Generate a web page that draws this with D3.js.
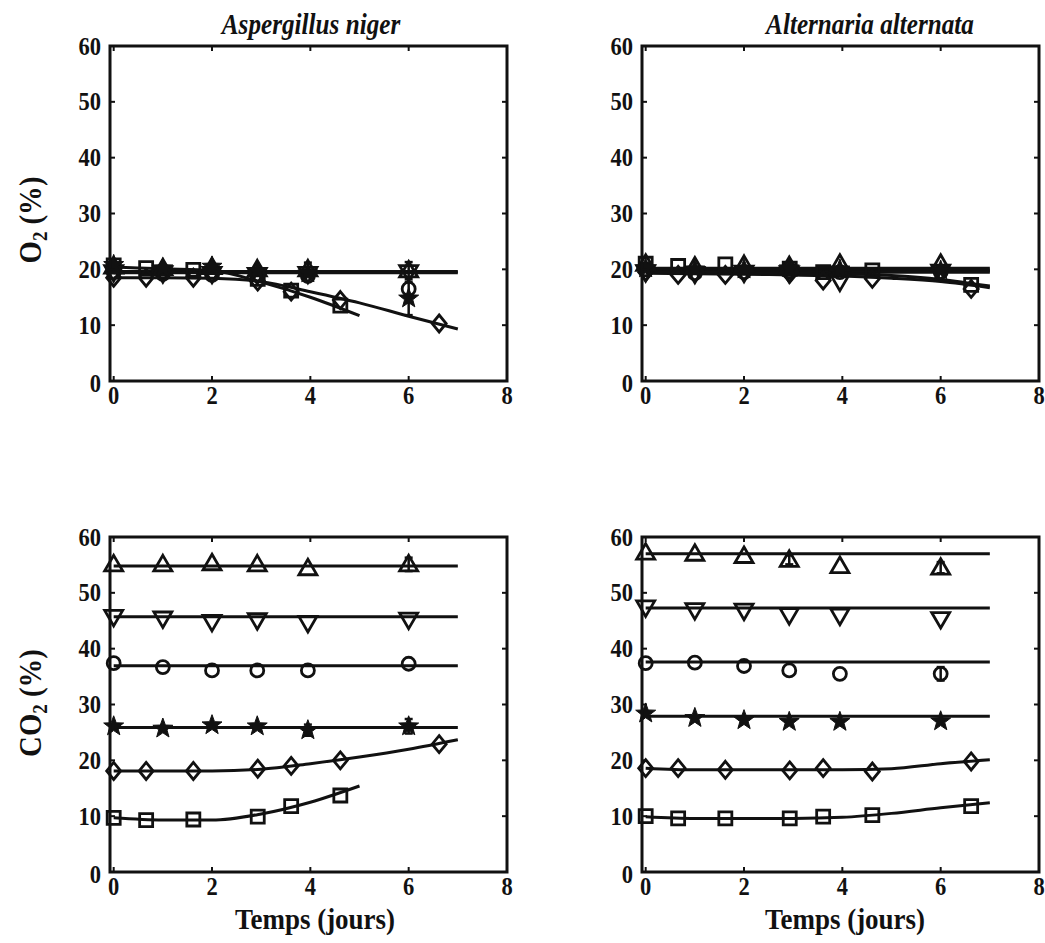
<!DOCTYPE html>
<html>
<head>
<meta charset="utf-8">
<script src="https://cdn.jsdelivr.net/npm/d3@7"></script>
<style>
  body { margin: 0; background: #fff; }
  text { font-family: "Liberation Serif", "Times New Roman", serif; font-weight: bold; fill: #111; }
</style>
</head>
<body>
<svg width="1045" height="943"></svg>
<script>
// sampling times (jours)
var tA = [0, 1, 2, 2.92, 3.95, 6];                    // triangles, circles, stars
var tB = [0, 0.66, 1.62, 2.93, 3.61, 4.61, 6.62];     // diamonds, squares
var fitT = [0, 1, 2, 3, 4, 5, 6, 7];
var fitFlat = [0, 7];
var fitShort = [0, 1, 2, 3, 4, 5];

var xTicks = [0, 2, 4, 6, 8];
var yTicks = [0, 10, 20, 30, 40, 50, 60];

// Aspergillus niger - O2
var anO2TriUp = [20.5, 20.2, 20.4, 20.0, 20.0, 19.8];
var anO2TriUpErr = [0, 0, 0, 0, 1.2, 1.5];
var anO2TriDown = [19.5, 19.3, 19.2, 19.0, 19.2, 19.5];
var anO2Circle = [19.5, 19.2, 19.0, 19.0, 18.8, 16.5];
var anO2Star = [20.8, 20.2, 20.5, 19.7, 19.3, 14.8];
var anO2StarErr = [0, 0, 0, 0, 0, 3.0];
var anO2Diamond = [18.5, 18.5, 18.5, 17.8, 16.0, 14.5, 10.3];
var anO2Square = [20.7, 20.2, 19.9, 18.3, 16.2, 13.5];
var anO2FlatFit = 19.6;
var anO2DiamondFit = [18.5, 18.5, 18.4, 17.8, 16.0, 14.0, 11.6, 9.3];
var anO2SquareFit = [20.4, 20.1, 19.8, 17.7, 15.0, 11.7];

// Alternaria alternata - O2
var aaO2TriUp = [21.0, 20.5, 20.8, 20.6, 21.0, 21.0];
var aaO2TriDown = [19.5, 19.2, 19.4, 19.3, 17.8, 19.6];
var aaO2Circle = [20.0, 19.3, 19.5, 19.6, 19.5, 19.5];
var aaO2Star = [20.2, 20.0, 20.0, 20.2, 20.0, 19.8];
var aaO2Diamond = [19.5, 19.0, 19.0, 19.2, 18.0, 18.3, 16.5];
var aaO2Square = [21.0, 20.6, 20.9, 20.1, 19.5, 19.8, 17.2];
var aaO2FlatFit = [20.2, 19.9, 19.7, 19.5];
var aaO2DiamondFit = [19.3, 19.2, 19.1, 19.0, 18.8, 18.4, 17.8, 16.7];
var aaO2SquareFit = [19.6, 19.5, 19.4, 19.3, 19.2, 18.9, 18.2, 17.0];

// Aspergillus niger - CO2
var anCO2TriUp = [55.1, 55.1, 55.3, 55.1, 54.4, 55.1];
var anCO2TriUpErr = [0, 0, 0, 0, 0, 1.2];
var anCO2TriDown = [45.7, 45.4, 44.8, 45.1, 44.6, 45.2];
var anCO2Circle = [37.4, 36.7, 36.1, 36.1, 36.1, 37.3];
var anCO2Star = [26.1, 25.7, 26.3, 26.1, 25.4, 26.1];
var anCO2StarErr = [0, 0, 0, 0, 1.0, 1.3];
var anCO2Diamond = [18.1, 18.1, 18.1, 18.5, 19.0, 20.0, 22.9];
var anCO2Square = [9.7, 9.3, 9.4, 9.9, 11.8, 13.7];
var anCO2Fits = [54.8, 45.7, 36.95, 25.9];
var anCO2DiamondFit = [18.1, 18.1, 18.1, 18.4, 19.4, 20.6, 22.0, 23.7];
var anCO2SquareFit = [9.7, 9.3, 9.3, 10.4, 12.5, 15.4];

// Alternaria alternata - CO2
var aaCO2TriUp = [57.2, 57.0, 56.6, 55.9, 54.8, 54.5];
var aaCO2TriUpErr = [0, 0, 0, 0.8, 0, 1.0];
var aaCO2TriDown = [47.4, 46.9, 46.8, 46.0, 45.9, 45.3];
var aaCO2Circle = [37.4, 37.5, 36.9, 36.1, 35.5, 35.5];
var aaCO2CircleErr = [0, 0, 0, 0, 0, 1.2];
var aaCO2Star = [28.4, 27.6, 27.2, 26.9, 26.9, 27.0];
var aaCO2Diamond = [18.6, 18.6, 18.3, 18.2, 18.6, 18.0, 19.8];
var aaCO2Square = [10.0, 9.6, 9.6, 9.6, 9.9, 10.2, 11.8];
var aaCO2Fits = [57.0, 47.3, 37.6, 27.9];
var aaCO2DiamondFit = [18.6, 18.3, 18.3, 18.3, 18.3, 18.5, 19.4, 20.1];
var aaCO2SquareFit = [9.9, 9.6, 9.6, 9.6, 9.8, 10.5, 11.5, 12.4];

function flat(v) { return [v, v]; }

var panels = [
  { left: 110, top: 46, title: "Aspergillus niger", titleX: 311,
    fits: [
      { x: fitFlat, y: flat(anO2FlatFit) },
      { x: fitFlat, y: flat(anO2FlatFit - 0.2) },
      { x: fitT, y: anO2DiamondFit },
      { x: fitShort, y: anO2SquareFit }
    ],
    series: [
      { shape: "square", t: tB, v: anO2Square },
      { shape: "diamond", t: tB, v: anO2Diamond },
      { shape: "down", t: tA, v: anO2TriDown },
      { shape: "circle", t: tA, v: anO2Circle },
      { shape: "up", t: tA, v: anO2TriUp, e: anO2TriUpErr },
      { shape: "star", t: tA, v: anO2Star, e: anO2StarErr }
    ] },
  { left: 642, top: 46, title: "Alternaria alternata", titleX: 870,
    fits: [
      { x: fitFlat, y: flat(aaO2FlatFit[0]) },
      { x: fitFlat, y: flat(aaO2FlatFit[1]) },
      { x: fitFlat, y: flat(aaO2FlatFit[2]) },
      { x: fitFlat, y: flat(aaO2FlatFit[3]) },
      { x: fitT, y: aaO2DiamondFit },
      { x: fitT, y: aaO2SquareFit }
    ],
    series: [
      { shape: "square", t: tB, v: aaO2Square },
      { shape: "diamond", t: tB, v: aaO2Diamond },
      { shape: "down", t: tA, v: aaO2TriDown },
      { shape: "circle", t: tA, v: aaO2Circle },
      { shape: "up", t: tA, v: aaO2TriUp },
      { shape: "star", t: tA, v: aaO2Star }
    ] },
  { left: 110, top: 537,
    fits: [
      { x: fitFlat, y: flat(anCO2Fits[0]) },
      { x: fitFlat, y: flat(anCO2Fits[1]) },
      { x: fitFlat, y: flat(anCO2Fits[2]) },
      { x: fitFlat, y: flat(anCO2Fits[3]) },
      { x: fitT, y: anCO2DiamondFit },
      { x: fitShort, y: anCO2SquareFit }
    ],
    series: [
      { shape: "up", t: tA, v: anCO2TriUp, e: anCO2TriUpErr },
      { shape: "down", t: tA, v: anCO2TriDown },
      { shape: "circle", t: tA, v: anCO2Circle },
      { shape: "star", t: tA, v: anCO2Star, e: anCO2StarErr },
      { shape: "diamond", t: tB, v: anCO2Diamond },
      { shape: "square", t: tB, v: anCO2Square }
    ] },
  { left: 642, top: 537,
    fits: [
      { x: fitFlat, y: flat(aaCO2Fits[0]) },
      { x: fitFlat, y: flat(aaCO2Fits[1]) },
      { x: fitFlat, y: flat(aaCO2Fits[2]) },
      { x: fitFlat, y: flat(aaCO2Fits[3]) },
      { x: fitT, y: aaCO2DiamondFit },
      { x: fitT, y: aaCO2SquareFit }
    ],
    series: [
      { shape: "up", t: tA, v: aaCO2TriUp, e: aaCO2TriUpErr },
      { shape: "down", t: tA, v: aaCO2TriDown },
      { shape: "circle", t: tA, v: aaCO2Circle, e: aaCO2CircleErr },
      { shape: "star", t: tA, v: aaCO2Star },
      { shape: "diamond", t: tB, v: aaCO2Diamond },
      { shape: "square", t: tB, v: aaCO2Square }
    ] }
];

var svg = d3.select("svg"),
  pw = 397,
  ph = 335;

// marker paths, centred on 0,0
function starPath(ro, ri) {
  var p = [];
  for (var i = 0; i < 10; i++) {
    var r = i % 2 ? ri : ro, a = -Math.PI / 2 + i * Math.PI / 5;
    p.push([r * Math.cos(a), r * Math.sin(a)]);
  }
  return "M" + p.join("L") + "Z";
}
var shapes = {
  square: "M-6.5,-6.5H6.5V6.5H-6.5Z",
  diamond: "M0,-8.5L7,0L0,8.5L-7,0Z",
  up: "M0,-9L9,6.5H-9Z",
  down: "M0,9L9,-6.5H-9Z",
  star: starPath(10.5, 4.3)
};

panels.forEach(function(p) {
  var g = svg.append("g").attr("transform", "translate(" + p.left + "," + p.top + ")");
  var x = d3.scaleLinear().domain([-0.075, 8]).range([0, pw]);
  var y = d3.scaleLinear().domain([0, 60]).range([ph, 0]);

  // fitted curves
  var line = d3.line()
    .x(function(d) { return x(d[0]); })
    .y(function(d) { return y(d[1]); })
    .curve(d3.curveMonotoneX);
  p.fits.forEach(function(f) {
    g.append("path")
      .datum(f.x.map(function(t, i) { return [t, f.y[i]]; }))
      .attr("fill", "none")
      .attr("stroke", "#111")
      .attr("stroke-width", 3)
      .attr("d", line);
  });

  // markers + error bars
  p.series.forEach(function(s) {
    var pts = s.t.slice(0, s.v.length).map(function(t, i) {
      return { t: t, v: s.v[i], e: s.e ? s.e[i] : 0 };
    });
    var eb = g.append("g").attr("stroke", "#111").attr("stroke-width", 2.5);
    pts.filter(function(d) { return d.e > 0; }).forEach(function(d) {
      var cx = x(d.t), y0 = y(d.v - d.e), y1 = y(d.v + d.e);
      eb.append("line").attr("x1", cx).attr("x2", cx).attr("y1", y0).attr("y2", y1);
      eb.append("line").attr("x1", cx - 4).attr("x2", cx + 4).attr("y1", y0).attr("y2", y0);
      eb.append("line").attr("x1", cx - 4).attr("x2", cx + 4).attr("y1", y1).attr("y2", y1);
    });
    var m = g.selectAll(null).data(pts).enter();
    if (s.shape === "circle") {
      m.append("circle")
        .attr("cx", function(d) { return x(d.t); })
        .attr("cy", function(d) { return y(d.v); })
        .attr("r", 6.5)
        .attr("fill", "none").attr("stroke", "#111").attr("stroke-width", 2.8);
    } else {
      m.append("path")
        .attr("transform", function(d) { return "translate(" + x(d.t) + "," + y(d.v) + ")"; })
        .attr("d", shapes[s.shape])
        .attr("fill", s.shape === "star" ? "#111" : "none")
        .attr("stroke", "#111")
        .attr("stroke-width", s.shape === "star" ? 1 : 2.8)
        .attr("stroke-linejoin", "miter");
    }
  });

  // box and inward ticks
  g.append("rect").attr("width", pw).attr("height", ph)
    .attr("fill", "none").attr("stroke", "#111").attr("stroke-width", 3);
  var tk = g.append("g").attr("stroke", "#111").attr("stroke-width", 2);
  xTicks.forEach(function(t) {
    tk.append("line").attr("x1", x(t)).attr("x2", x(t)).attr("y1", ph).attr("y2", ph - 5);
    tk.append("line").attr("x1", x(t)).attr("x2", x(t)).attr("y1", 0).attr("y2", 5);
  });
  yTicks.forEach(function(t) {
    tk.append("line").attr("x1", 0).attr("x2", 5).attr("y1", y(t)).attr("y2", y(t));
    tk.append("line").attr("x1", pw).attr("x2", pw - 5).attr("y1", y(t)).attr("y2", y(t));
  });

  g.selectAll(null).data(xTicks).enter().append("text")
    .attr("transform", function(d) { return "translate(" + x(d) + "," + (ph + 23) + ") scale(0.9,1)"; })
    .attr("text-anchor", "middle")
    .style("font-size", "25px")
    .text(function(d) { return d; });
  g.selectAll(null).data(yTicks).enter().append("text")
    .attr("transform", function(d) { return "translate(-9," + (y(d) + (d === 0 ? 11 : 8.5)) + ") scale(0.9,1)"; })
    .attr("text-anchor", "end")
    .style("font-size", "25px")
    .text(function(d) { return d; });

  if (p.title) {
    svg.append("text")
      .attr("transform", "translate(" + p.titleX + ",34) scale(0.84,1)")
      .attr("text-anchor", "middle")
      .style("font-size", "30px").style("font-style", "italic")
      .text(p.title);
  }
});

// axis titles
function yLabel(cy, pre) {
  var t = svg.append("text")
    .attr("transform", "translate(41," + cy + ") rotate(-90) scale(0.9,1)")
    .attr("text-anchor", "middle")
    .style("font-size", "32px");
  t.append("tspan").text(pre);
  t.append("tspan").attr("dy", 6).style("font-size", "21px").text("2");
  t.append("tspan").attr("dy", -6).text(" (%)");
}
yLabel(220, "O");
yLabel(703, "CO");

[315, 845].forEach(function(cx) {
  svg.append("text")
    .attr("transform", "translate(" + cx + ",929) scale(0.9,1)")
    .attr("text-anchor", "middle")
    .style("font-size", "30px")
    .text("Temps (jours)");
});
</script>
</body>
</html>
